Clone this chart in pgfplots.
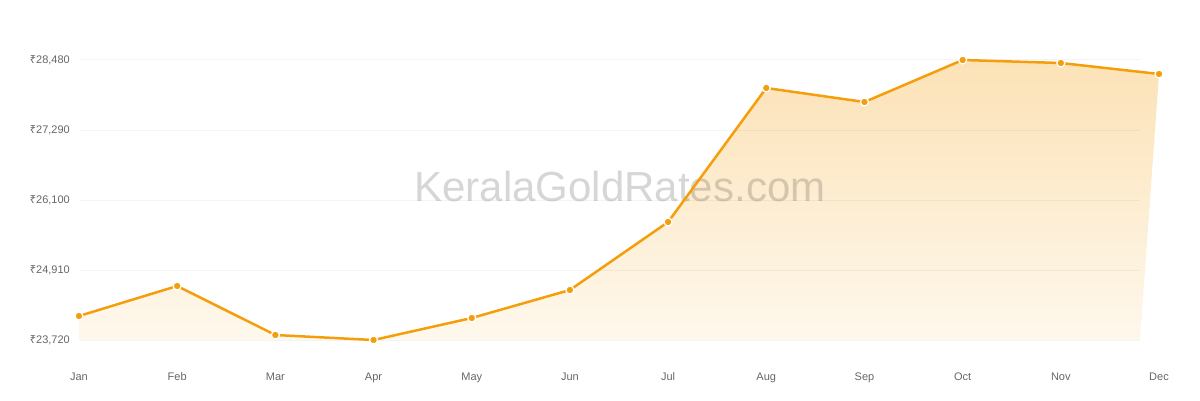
\documentclass[border=0pt]{standalone}
\usepackage{fontspec}
\setmainfont{Liberation Sans}
\newfontfamily\rs{Noto Sans}
\usepackage{pgfplots}
\pgfplotsset{compat=1.18}

\definecolor{gold}{HTML}{F59E0B}
\definecolor{fillTop}{RGB}{252,226,182}
\definecolor{fillBot}{RGB}{254,248,237}
\definecolor{lbl}{HTML}{666666}

\begin{document}
\begin{tikzpicture}[x=1bp,y=1bp]
\useasboundingbox (-79,-60) rectangle (1121,340);
\begin{axis}[
    at={(0,0)}, anchor=south west,
    scale only axis,
    width=1080bp, height=280bp,
    xmin=0, xmax=11,
    ymin=23720, ymax=28480,
    axis line style={draw=none},
    major tick length=0pt,
    clip=false,
    scaled y ticks=false,
    xtick={0,...,11},
    xticklabels={Jan,Feb,Mar,Apr,May,Jun,Jul,Aug,Sep,Oct,Nov,Dec},
    ytick={23720,24910,26100,27290,28480},
    /pgf/number format/assume math mode=true,
    yticklabel={{\rs ₹}\pgfmathprintnumber[fixed,precision=0,1000 sep={,}]{\tick}},
    ticklabel style={font=\fontsize{11bp}{13bp}\selectfont, text=lbl},
    yticklabel style={inner sep=0pt, anchor=east, xshift=-9bp},
    xticklabel style={inner sep=0pt, anchor=base, yshift=-40bp},
]

% area under the line
\addplot[draw=none, top color=fillTop, bottom color=fillBot] coordinates {
    (0,24128) (1,24638) (2,23805) (3,23720) (4,24094) (5,24570)
    (6,25726) (7,28004) (8,27766) (9,28480) (10,28429) (11,28242)
    (10.807,23720) (0,23720)
};

% grid lines
\foreach \v in {23720,24910,26100,27290,28480} {
    \edef\tmp{\noexpand\draw[black, opacity=0.045, line width=1bp] (axis cs:0.01,\v) -- (axis cs:10.807,\v);}
    \tmp
}

\node[text=black, text opacity=0.16, font=\fontsize{42bp}{48bp}\selectfont]
    at (axis cs:5.51,26338) {KeralaGoldRates.com};

% the line
\addplot[gold, line width=2.5bp, mark=*,
    mark options={fill=gold, draw=white, line width=1.3bp},
    mark size=4bp] coordinates {
    (0,24128) (1,24638) (2,23805) (3,23720) (4,24094) (5,24570)
    (6,25726) (7,28004) (8,27766) (9,28480) (10,28429) (11,28242)
};

\end{axis}
\end{tikzpicture}
\end{document}
